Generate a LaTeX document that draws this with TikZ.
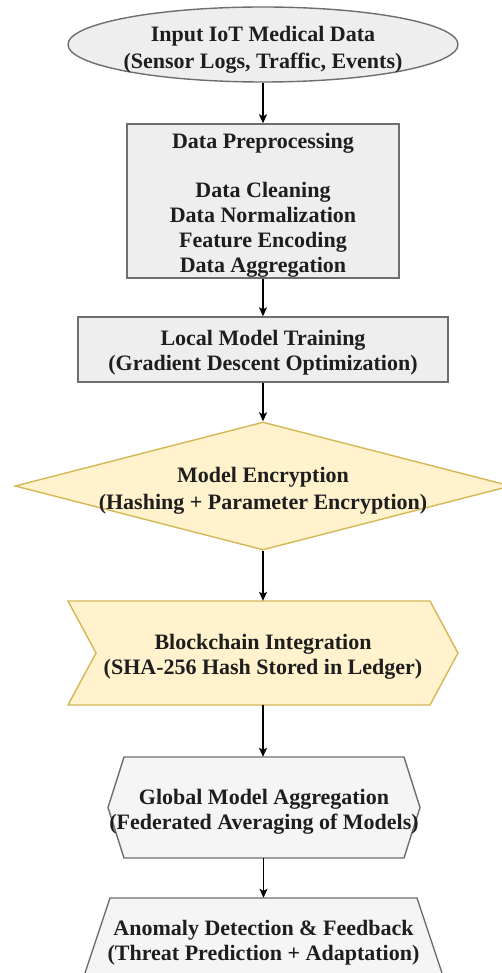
\documentclass[tikz,border=0pt]{standalone}
\usepackage{fontspec}
\setmainfont{Liberation Serif}
\usetikzlibrary{shapes.geometric,arrows.meta}
\definecolor{greyfill}{HTML}{EEEEEE}
\definecolor{lightfill}{HTML}{F5F5F5}
\definecolor{greyline}{HTML}{6E6E6E}
\definecolor{yellowfill}{HTML}{FFF2CC}
\definecolor{yellowline}{HTML}{D6B656}
\definecolor{inkcol}{HTML}{1E1E1E}
\begin{document}
\begin{tikzpicture}[x=1pt,y=-1pt,
  txt/.style={font=\fontsize{22}{25}\selectfont\bfseries, text=inkcol, align=center, inner sep=0pt},
  greybox/.style={draw=greyline, fill=greyfill, line width=1.4pt},
  lightbox/.style={draw=greyline, fill=lightfill, line width=1.4pt},
  yellowbox/.style={draw=yellowline, fill=yellowfill, line width=1.4pt},
  flow/.style={-{Stealth[length=9pt,width=8pt,inset=2pt]}, line width=1.2pt, black},
]
\useasboundingbox (0,0) rectangle (501,973);

% input ellipse
\node[ellipse, greybox, minimum width=390pt, minimum height=75pt, inner sep=0pt] (in) at (263,44.5) {};
\node[txt, font=\fontsize{22}{26.5}\selectfont\bfseries] (inT) at (263,50) {Input IoT Medical Data\\(Sensor Logs, Traffic, Events)};

% preprocessing
\node[rectangle, greybox, minimum width=272pt, minimum height=154pt] (pre) at (263,201) {};
\node[txt] (preT) at (263,205)
  {Data Preprocessing\\[24pt]Data Cleaning\\Data Normalization\\Feature Encoding\\Data Aggregation};

% local training
\node[rectangle, greybox, minimum width=370pt, minimum height=65pt] (loc) at (263,349.5) {};
\node[txt] (locT) at (263,353) {Local Model Training\\(Gradient Descent Optimization)};

% encryption diamond
\node[diamond, yellowbox, minimum width=496pt, minimum height=128pt, inner sep=0pt] (enc) at (263,486) {};
\node[txt, font=\fontsize{22}{27}\selectfont\bfseries] (encT) at (263,491) {Model Encryption\\(Hashing + Parameter Encryption)};

% blockchain step shape
\node[rectangle, minimum width=390pt, minimum height=104pt, inner sep=0pt] (blk) at (263,653) {};
\path[yellowbox] (68,601) -- (430,601) -- (458,653) -- (430,705) -- (68,705) -- (96,653) -- cycle;
\node[txt] (blkT) at (263,657) {Blockchain Integration\\(SHA-256 Hash Stored in Ledger)};

% global aggregation hexagon
\node[rectangle, minimum width=312pt, minimum height=101pt, inner sep=0pt] (glob) at (264,807.5) {};
\path[lightbox] (108,807.5) -- (124,757) -- (404,757) -- (420,807.5) -- (404,858) -- (124,858) -- cycle;
\node[txt] (globT) at (264,812) {Global Model Aggregation\\(Federated Averaging of Models)};

% anomaly detection trapezoid
\node[rectangle, minimum width=307pt, minimum height=84pt, inner sep=0pt] (anom) at (263.5,940) {};
\path[lightbox] (110,898) -- (417,898) -- (445,982) -- (82,982) -- cycle;
\node[txt] (anomT) at (263.5,943) {Anomaly Detection \& Feedback\\(Threat Prediction + Adaptation)};

% connectors
\draw[flow] (in.south) -- (pre.north);
\draw[flow] (pre.south) -- (loc.north);
\draw[flow] (loc.south) -- (enc.north);
\draw[flow] (enc.south) -- (blk.north);
\draw[flow] (blk.south) -- (blk.south |- glob.north);
\draw[flow] (glob.south -| anom.north) -- (anom.north);
\end{tikzpicture}
\end{document}
